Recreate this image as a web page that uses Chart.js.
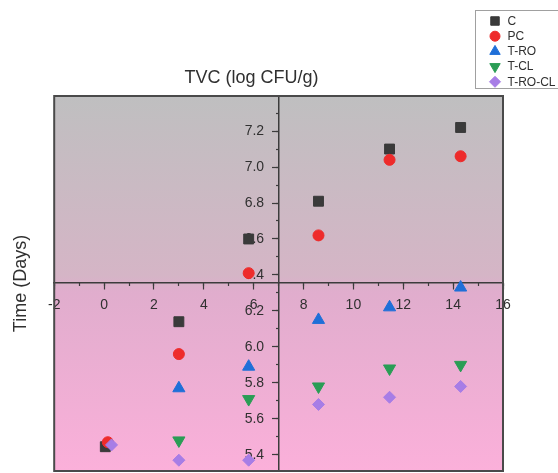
<!DOCTYPE html>
<html>
<head>
<meta charset="utf-8">
<script src="https://cdn.jsdelivr.net/npm/chart.js@4.4.1/dist/chart.umd.min.js"></script>
<style>
  html, body { margin: 0; padding: 0; background: #ffffff; }
</style>
</head>
<body>
<canvas id="myChart" width="558" height="473"></canvas>
<script>
// Valores
const seriesNames = ['C', 'PC', 'T-RO', 'T-CL', 'T-RO-CL'];
const days = [0.15, 3, 5.8, 8.6, 11.45, 14.3];
// no dia 0 os marcadores aparecem ligeiramente desencontrados
const dayZero = [0.05, 0.15, 0.2, 0.2, 0.3];
const valuesC = [5.445, 6.14, 6.60, 6.81, 7.10, 7.22];
const valuesPC = [5.47, 5.96, 6.41, 6.62, 7.04, 7.06];
const valuesTRO = [null, 5.77, 5.89, 6.15, 6.22, 6.33];
const valuesTCL = [null, 5.48, 5.71, 5.78, 5.88, 5.90];
const valuesTROCL = [5.455, 5.37, 5.37, 5.68, 5.72, 5.78];

// Rótulos dos eixos
const xTickLabels = [-2, 0, 2, 4, 6, 8, 10, 12, 14, 16];
const yTickLabels = [5.4, 5.6, 5.8, 6.0, 6.2, 6.4, 6.6, 6.8, 7.0, 7.2];

const textColor = '#303030';
const axisColor = '#3c3c3c';
const fontFamily = '"Liberation Sans", Arial, sans-serif';

// Junta dias e valores num só conjunto de pontos
function toPoints(values, seriesIndex) {
    return days
        .map((d, i) => ({ x: i === 0 ? dayZero[seriesIndex] : d, y: values[i] }))
        .filter(p => p.y !== null);
}

const styles = [
    { values: valuesC, color: '#3a3a3a', pointStyle: 'rect', radius: 7, rotation: 0, legendRadius: 6 },
    { values: valuesPC, color: '#ee2b2b', pointStyle: 'circle', radius: 5.5, rotation: 0, legendRadius: 5 },
    { values: valuesTRO, color: '#1f6fd8', pointStyle: 'triangle', radius: 7, rotation: 0, legendRadius: 6 },
    { values: valuesTCL, color: '#2a9d55', pointStyle: 'triangle', radius: 7, rotation: 180, legendRadius: 6 },
    { values: valuesTROCL, color: '#a77de6', pointStyle: 'rectRot', radius: 6, rotation: 0, legendRadius: 5.5 }
];

const datasets = styles.map((s, i) => ({
    label: seriesNames[i],
    data: toPoints(s.values, i),
    pointStyle: s.pointStyle,
    rotation: s.rotation,
    radius: s.radius,
    backgroundColor: s.color,
    borderColor: s.color,
    borderWidth: 1,
    order: styles.length - i   // a última série fica por cima
}));

// Fundo em degradê cinzento -> rosa, e moldura
const backgroundPlugin = {
    id: 'plotBackground',
    beforeDraw(chart) {
        const { ctx, chartArea: a } = chart;
        const g = ctx.createLinearGradient(0, a.top, 0, a.bottom);
        g.addColorStop(0, '#bfbfc0');
        g.addColorStop(0.48, '#d5b5c6');
        g.addColorStop(0.52, '#e0adcd');
        g.addColorStop(1, '#fbb0da');
        ctx.save();
        ctx.fillStyle = g;
        ctx.fillRect(a.left, a.top, a.right - a.left, a.bottom - a.top);
        ctx.restore();
    },
    afterDraw(chart) {
        const { ctx, chartArea: a } = chart;
        ctx.save();
        ctx.strokeStyle = '#4a4a4a';
        ctx.lineWidth = 2;
        ctx.strokeRect(a.left, a.top, a.right - a.left, a.bottom - a.top);
        ctx.restore();
    }
};

// Legenda em caixa no canto superior direito
const legendBoxPlugin = {
    id: 'legendBox',
    afterDraw(chart) {
        const ctx = chart.ctx;
        const left = 475.5, top = 10.5, rowH = 15.2;
        ctx.save();
        ctx.fillStyle = '#ffffff';
        ctx.strokeStyle = '#a0a0a0';
        ctx.lineWidth = 1;
        ctx.fillRect(left, top, 100, 78);
        ctx.strokeRect(left, top, 100, 78);
        ctx.font = '12px ' + fontFamily;
        ctx.textBaseline = 'middle';
        ctx.textAlign = 'left';
        chart.data.datasets.forEach((ds, i) => {
            const y = top + 10.5 + i * rowH;
            ctx.fillStyle = ds.backgroundColor;
            ctx.strokeStyle = ds.borderColor;
            Chart.helpers.drawPoint(ctx, {
                pointStyle: ds.pointStyle,
                rotation: ds.rotation,
                radius: styles[i].legendRadius,
                borderWidth: 1
            }, left + 19.5, y);
            ctx.fillStyle = textColor;
            ctx.fillText(ds.label, left + 32, y + 0.5);
        });
        ctx.restore();
    }
};

const tickFont = { family: fontFamily, size: 14 };
const noPadding = s => { s.paddingTop = 0; s.paddingBottom = 0; s.paddingLeft = 0; s.paddingRight = 0; };

const ctx = document.getElementById('myChart').getContext('2d');
const myChart = new Chart(ctx, {
    type: 'scatter',
    data: { datasets: datasets },
    options: {
        responsive: false,
        animation: false,
        layout: { autoPadding: false, padding: { top: 67, right: 55, bottom: 2, left: 0 } },
        plugins: {
            legend: { display: false },
            tooltip: { enabled: false },
            title: {
                display: true,
                text: 'TVC (log CFU/g)',
                color: textColor,
                font: { family: fontFamily, size: 18, weight: 'normal' },
                padding: { top: 0, bottom: 7.4 }
            }
        },
        scales: {
            x: {
                type: 'linear',
                min: -2,
                max: 16,
                position: { y: 6.355 },
                afterBuildTicks: s => { s.ticks = xTickLabels.map(v => ({ value: v })); },
                afterFit: noPadding,
                ticks: { font: tickFont, color: textColor, padding: 8, autoSkip: false, maxRotation: 0, callback: v => String(v) },
                grid: { drawOnChartArea: false, tickLength: 6, tickColor: axisColor, tickWidth: 1.2 },
                border: { color: axisColor, width: 1.5 }
            },
            xMinor: {
                type: 'linear',
                axis: 'x',
                min: -2,
                max: 16,
                position: { y: 6.355 },
                afterFit: noPadding,
                ticks: { display: false, stepSize: 1 },
                grid: { drawOnChartArea: false, tickLength: 3, tickColor: axisColor, tickWidth: 1.2 },
                border: { display: false }
            },
            y: {
                type: 'linear',
                min: 5.31,
                max: 7.395,
                position: { x: 7 },
                afterBuildTicks: s => { s.ticks = yTickLabels.map(v => ({ value: v })); },
                afterFit: noPadding,
                // rótulos alinhados à direita no próprio eixo: espaços afastam do traço
                ticks: { font: tickFont, color: textColor, autoSkip: false, callback: v => v.toFixed(1) + '   \u2009' },
                grid: { drawOnChartArea: false, tickLength: 6, tickColor: axisColor, tickWidth: 1.2 },
                border: { color: axisColor, width: 1.5 }
            },
            yMinor: {
                type: 'linear',
                axis: 'y',
                min: 5.31,
                max: 7.395,
                position: { x: 7 },
                afterFit: noPadding,
                ticks: { display: false, stepSize: 0.1, includeBounds: false },
                grid: { drawOnChartArea: false, tickLength: 3, tickColor: axisColor, tickWidth: 1.2 },
                border: { display: false }
            },
            yTitle: {
                type: 'linear',
                axis: 'y',
                position: 'left',
                display: true,
                afterFit: noPadding,
                ticks: { display: false },
                grid: { display: false, drawTicks: false },
                border: { display: false },
                title: {
                    display: true,
                    text: 'Time (Days)',
                    color: textColor,
                    font: { family: fontFamily, size: 18 },
                    padding: { top: 10, bottom: 22.6 }
                }
            }
        }
    },
    plugins: [backgroundPlugin, legendBoxPlugin]
});
</script>
</body>
</html>
